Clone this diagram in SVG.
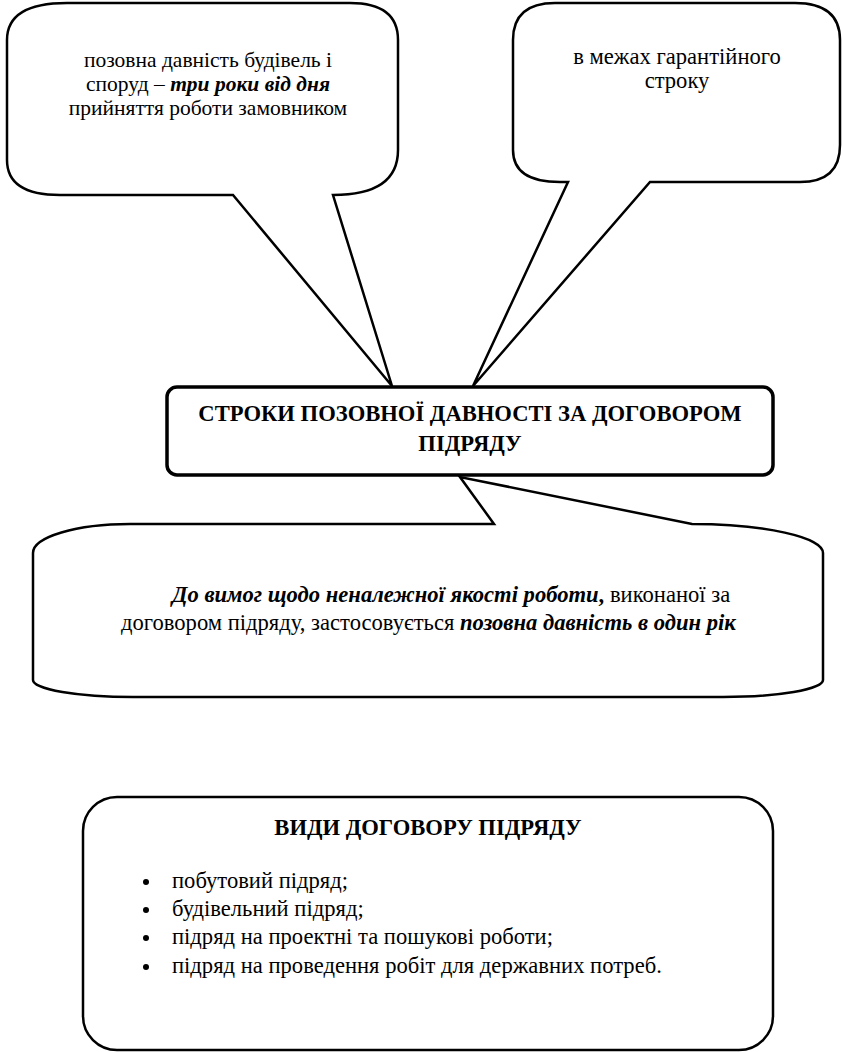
<svg xmlns="http://www.w3.org/2000/svg" width="842" height="1052" viewBox="0 0 842 1052">
<style>
.shape{fill:#fff;stroke:#000;stroke-width:2.5;stroke-linejoin:miter}
.t{font-family:"Liberation Serif","Times New Roman",serif;font-size:22.6px;fill:#000}
.s{font-size:21.5px}
.c{text-anchor:middle}
.b{font-weight:bold}
.bi{font-weight:bold;font-style:italic}
</style>
<rect width="842" height="1052" fill="#fff"/>
<g id="callout-left">
<path class="shape" d="M 67,3 L 350,3 Q 398,3 398,40 L 398,150 Q 398,195 333,195 L 392,386 L 233,195 L 60,195 Q 7,195 7,160 L 7,40 Q 7,3 67,3 Z"/>
<text class="t s c" x="208" y="67">позовна давність будівель і</text>
<text class="t s c" x="208" y="91">споруд – <tspan class="bi">три роки від дня</tspan></text>
<text class="t s c" x="208" y="115">прийняття роботи замовником</text>
</g>
<g id="callout-right">
<path class="shape" d="M 555,3 L 795,3 Q 840,3 840,40 L 840,145 Q 840,182 800,182 L 650,182 L 473,386 L 568,182 L 560,182 Q 513,182 513,150 L 513,40 Q 513,3 555,3 Z"/>
<text class="t c" x="677" y="64">в межах гарантійного</text>
<text class="t c" x="677" y="88">строку</text>
</g>
<g id="callout-bottom">
<path class="shape" d="M 130,524 L 494,524 L 460,477 L 692,524 A 133,29 0 0 1 823,553 L 823,680 A 100,17 0 0 1 723,697 L 133,697 A 100,17 0 0 1 33,680 L 33,553 A 97,29 0 0 1 130,524 Z"/>
<text class="t" x="172" y="602"><tspan class="bi">До вимог щодо неналежної якості роботи</tspan><tspan class="b">,</tspan> виконаної за</text>
<text class="t" x="121" y="630">договором підряду, застосовується <tspan class="bi">позовна давність в один рік</tspan></text>
</g>
<g id="center">
<rect x="167" y="387" width="606" height="88" rx="10" fill="#fff" stroke="#000" stroke-width="3.5"/>
<text class="t c b" x="470" y="421">СТРОКИ ПОЗОВНОЇ ДАВНОСТІ ЗА ДОГОВОРОМ</text>
<text class="t c b" x="470" y="451">ПІДРЯДУ</text>
</g>
<g id="types">
<rect class="shape" x="83" y="797" width="690" height="253" rx="34"/>
<text class="t c b" x="428" y="835">ВИДИ ДОГОВОРУ ПІДРЯДУ</text>
<circle cx="146" cy="882" r="3"/>
<circle cx="146" cy="910" r="3"/>
<circle cx="146" cy="938" r="3"/>
<circle cx="146" cy="967" r="3"/>
<text class="t" x="172" y="888">побутовий підряд;</text>
<text class="t" x="172" y="916">будівельний підряд;</text>
<text class="t" x="172" y="944">підряд на проектні та пошукові роботи;</text>
<text class="t" x="172" y="973">підряд на проведення робіт для державних потреб.</text>
</g>
<g id="connectors"></g>
</svg>
